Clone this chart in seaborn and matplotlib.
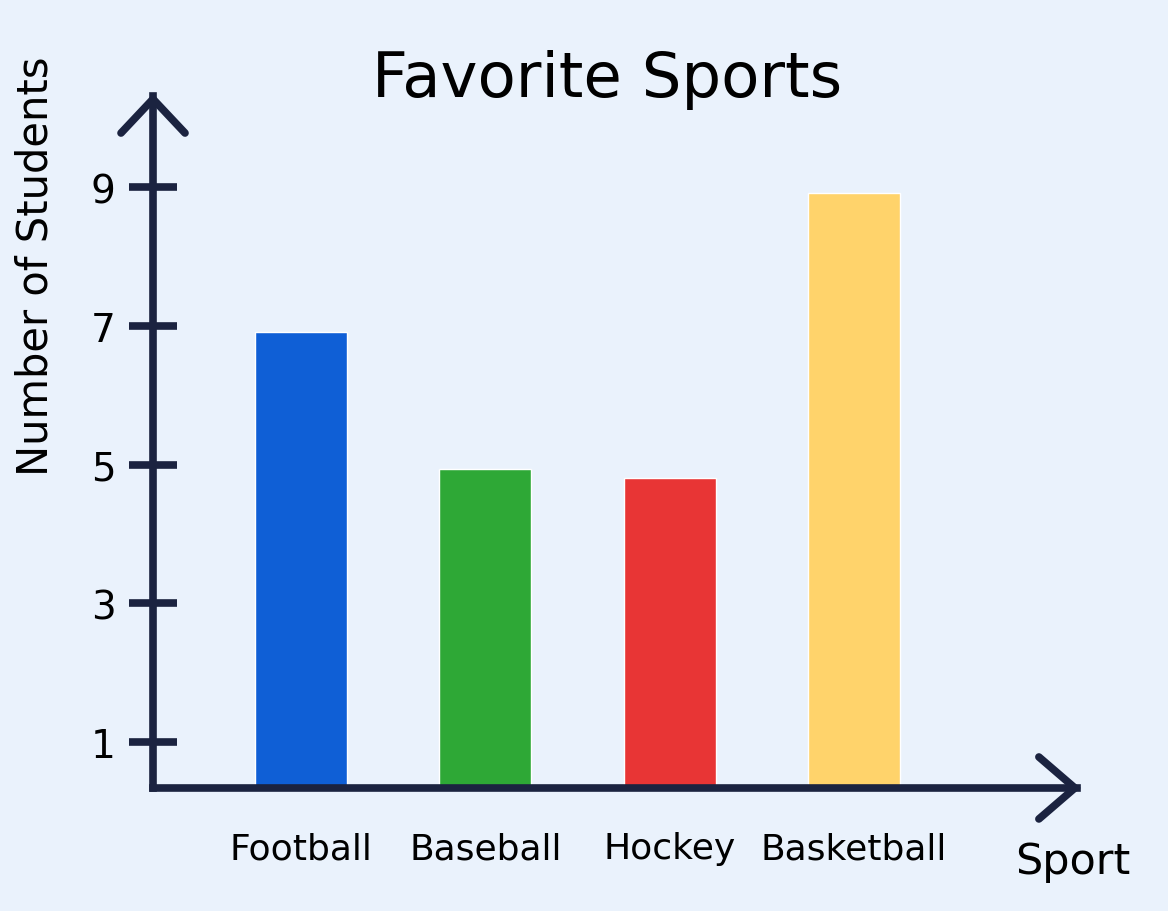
import matplotlib
matplotlib.use("Agg")
import matplotlib.pyplot as plt
import seaborn as sns
import pandas as pd

# Survey results
sports = ["Football", "Baseball", "Hockey", "Basketball"]
students = [6.92, 4.94, 4.81, 8.92]
bar_colors = ["#0f5fd6", "#2ea836", "#e83535", "#ffd36b"]
y_ticks = [1, 3, 5, 7, 9]

title_text = "Favorite Sports"
x_label = "Sport"
y_label = "Number of Students"

sns.set_theme(style="white")
plt.rcParams["font.family"] = ["DejaVu Sans"]

bg = "#eaf2fc"
ink = "#1b2340"

fig = plt.figure(figsize=(11.68, 9.12), dpi=100, facecolor=bg)
ax = fig.add_axes([0.131, 0.1349, 0.791, 0.7587])
ax.set_facecolor(bg)

df = pd.DataFrame({"sport": sports, "students": students})
sns.barplot(data=df, x="sport", y="students", hue="sport", palette=bar_colors,
            width=0.5, legend=False, ax=ax, saturation=1, zorder=2)

ax.set_xlim(-0.803, 4.21)
ax.set_ylim(0.33, 10.32)

# Axis lines with arrow heads
for side in ["top", "right"]:
    ax.spines[side].set_visible(False)
for side in ["left", "bottom"]:
    ax.spines[side].set_color(ink)
    ax.spines[side].set_linewidth(5.5)
    ax.spines[side].set_capstyle("projecting")
    ax.spines[side].set_zorder(3)

W, H = 0.791 * 1168, 0.7587 * 912  # axes size in pixels
lw = 5.5
# up arrow
ax.plot([-32 / W, 0, 32 / W], [1 - 37 / H, -3 / H + 1, 1 - 37 / H], transform=ax.transAxes,
        color=ink, lw=lw, solid_capstyle="round", solid_joinstyle="miter", clip_on=False)
# right arrow
ax.plot([1 - 38 / W, 1 - 2 / W, 1 - 38 / W], [31 / H, 0, -31 / H], transform=ax.transAxes,
        color=ink, lw=lw, solid_capstyle="round", solid_joinstyle="miter", clip_on=False)

ax.set_yticks(y_ticks)
ax.set_yticklabels([str(v) for v in y_ticks])
ax.tick_params(axis="y", left=True, direction="inout", length=34, width=5.5, color=ink,
               labelsize=28, pad=10, labelcolor="black")
ax.tick_params(axis="x", bottom=False, length=0, labelsize=26, pad=31, labelcolor="black")
ax.set_xlabel("")
ax.set_ylabel("")

fig.text(607 / 1168, 1 - 80 / 912, title_text, ha="center", va="center",
         fontsize=45, color="black")
fig.text(36 / 1168, 1 - 266 / 912, y_label, ha="center", va="center",
         rotation=90, fontsize=30, color="black")
fig.text(1073 / 1168, 1 - 862 / 912, x_label, ha="center", va="center",
         fontsize=31, color="black")

fig.savefig("out.png", dpi=100, facecolor=bg)
